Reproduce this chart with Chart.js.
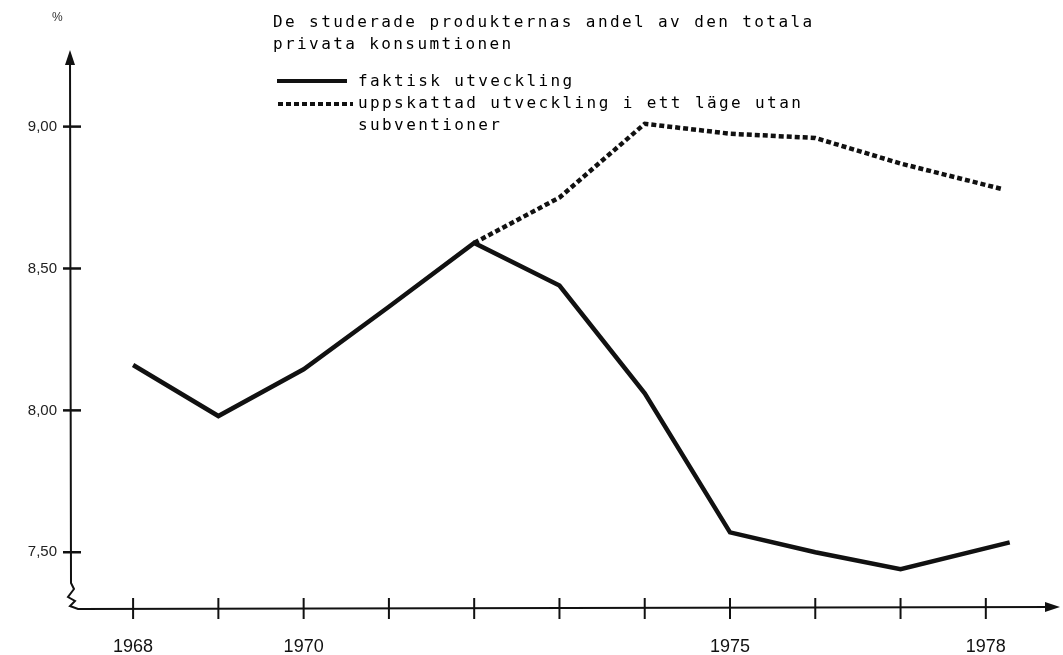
<!DOCTYPE html>
<html>
<head>
<meta charset="utf-8">
<script src="https://cdn.jsdelivr.net/npm/chart.js@4"></script>
<style>
  html, body { margin: 0; padding: 0; background: #fff; }
  .wrap { position: relative; width: 1063px; height: 655px; }
  canvas { position: absolute; left: 0; top: 0; }
  .txt {
    position: absolute;
    font-family: "DejaVu Sans Mono", monospace;
    font-size: 16px;
    letter-spacing: 2.4px;
    line-height: 22px;
    color: #000;
    white-space: pre;
  }
  .unit { position: absolute; left: 52px; top: 10px; font-family: "Liberation Sans", sans-serif; font-size: 12px; color: #333; }
</style>
</head>
<body>
<div class="wrap">
  <canvas id="chart" width="1063" height="655"></canvas>
  <div class="unit">%</div>
  <div class="txt" style="left:273px; top:11px;">De studerade produkternas andel av den totala
privata konsumtionen</div>
  <div class="txt" style="left:358px; top:70px;">faktisk utveckling
uppskattad utveckling i ett läge utan
subventioner</div>
</div>
<script>
// values
const actualYears = [1968, 1969, 1970, 1971, 1972, 1973, 1974, 1975, 1976, 1977, 1978.28];
const actualShare = [8.16, 7.98, 8.145, 8.365, 8.59, 8.44, 8.06, 7.57, 7.50, 7.44, 7.535];

const estYears = [1972, 1973, 1974, 1975, 1976, 1977, 1978.19];
const estShare = [8.59, 8.75, 9.01, 8.975, 8.96, 8.87, 8.78];

const yearTicks = [1968, 1969, 1970, 1971, 1972, 1973, 1974, 1975, 1976, 1977, 1978];
const labelledYears = [1968, 1970, 1975, 1978];
const shareTicks = [7.5, 8.0, 8.5, 9.0];

const toPoints = (xs, ys) => xs.map((x, i) => ({ x, y: ys[i] }));

/* ===== hand-drawn style axes ===== */
const axesPlugin = {
  id: "axes",
  afterDraw(chart) {
    const { ctx, chartArea: a, scales } = chart;
    const x0 = a.left, yB = a.bottom;
    ctx.save();
    ctx.strokeStyle = "#111";
    ctx.fillStyle = "#111";
    ctx.lineWidth = 2;

    // y axis with zigzag break at the bottom
    ctx.beginPath();
    ctx.moveTo(x0, a.top + 4);
    ctx.lineTo(x0 + 1, yB - 26);
    ctx.lineTo(x0 + 4, yB - 20);
    ctx.lineTo(x0 - 2, yB - 12);
    ctx.lineTo(x0 + 5, yB - 8);
    ctx.lineTo(x0, yB - 3);
    ctx.lineTo(x0 + 8, yB);
    ctx.lineTo(a.right - 6, yB - 2);
    ctx.stroke();

    // arrow heads
    ctx.beginPath();
    ctx.moveTo(x0, a.top);
    ctx.lineTo(x0 - 5, a.top + 15);
    ctx.lineTo(x0 + 5, a.top + 15);
    ctx.closePath();
    ctx.fill();
    ctx.beginPath();
    ctx.moveTo(a.right, yB - 2);
    ctx.lineTo(a.right - 15, yB - 7);
    ctx.lineTo(a.right - 15, yB + 3);
    ctx.closePath();
    ctx.fill();

    // crossing tick marks
    ctx.lineWidth = 2;
    yearTicks.forEach(v => {
      const px = scales.x.getPixelForValue(v);
      ctx.beginPath();
      ctx.moveTo(px, yB - 11);
      ctx.lineTo(px, yB + 10);
      ctx.stroke();
    });
    ctx.lineWidth = 2.5;
    shareTicks.forEach(v => {
      const py = scales.y.getPixelForValue(v);
      ctx.beginPath();
      ctx.moveTo(x0 - 7, py);
      ctx.lineTo(x0 + 11, py);
      ctx.stroke();
    });

    // legend samples
    ctx.lineWidth = 4;
    ctx.beginPath();
    ctx.moveTo(277, 81);
    ctx.lineTo(347, 81);
    ctx.stroke();
    ctx.setLineDash([5, 3]);
    ctx.beginPath();
    ctx.moveTo(278, 104);
    ctx.lineTo(353, 104);
    ctx.stroke();
    ctx.restore();
  }
};

new Chart(document.getElementById("chart"), {
  type: "line",
  data: {
    datasets: [
      {
        label: "faktisk utveckling",
        data: toPoints(actualYears, actualShare),
        borderColor: "#111",
        borderWidth: 4.5,
        pointRadius: 0,
        tension: 0,
      },
      {
        label: "uppskattad utveckling i ett läge utan subventioner",
        data: toPoints(estYears, estShare),
        borderColor: "#111",
        borderWidth: 4.5,
        borderDash: [5, 3],
        pointRadius: 0,
        tension: 0,
      },
    ],
  },
  options: {
    responsive: false,
    animation: false,
    layout: { padding: { left: 0, right: 3, top: 50, bottom: 0 } },
    plugins: {
      legend: { display: false },
      tooltip: { enabled: false },
    },
    scales: {
      x: {
        type: "linear",
        min: 1967.26,
        max: 1978.87,
        grid: { display: false },
        border: { display: false },
        afterBuildTicks: s => { s.ticks = yearTicks.map(v => ({ value: v })); },
        afterFit: s => { s.height = 46; },
        ticks: {
          autoSkip: false,
          maxRotation: 0,
          padding: 19,
          color: "#111",
          font: { family: "Liberation Sans", size: 18 },
          callback: v => (labelledYears.includes(v) ? String(v) : ""),
        },
      },
      y: {
        min: 7.3,
        max: 9.27,
        grid: { display: false },
        border: { display: false },
        afterBuildTicks: s => { s.ticks = shareTicks.map(v => ({ value: v })); },
        afterFit: s => { s.width = 70; },
        ticks: {
          padding: 5,
          color: "#222",
          font: { family: "Liberation Sans", size: 15 },
          callback: v => v.toFixed(2).replace(".", ","),
        },
      },
    },
  },
  plugins: [axesPlugin],
});
</script>
</body>
</html>
